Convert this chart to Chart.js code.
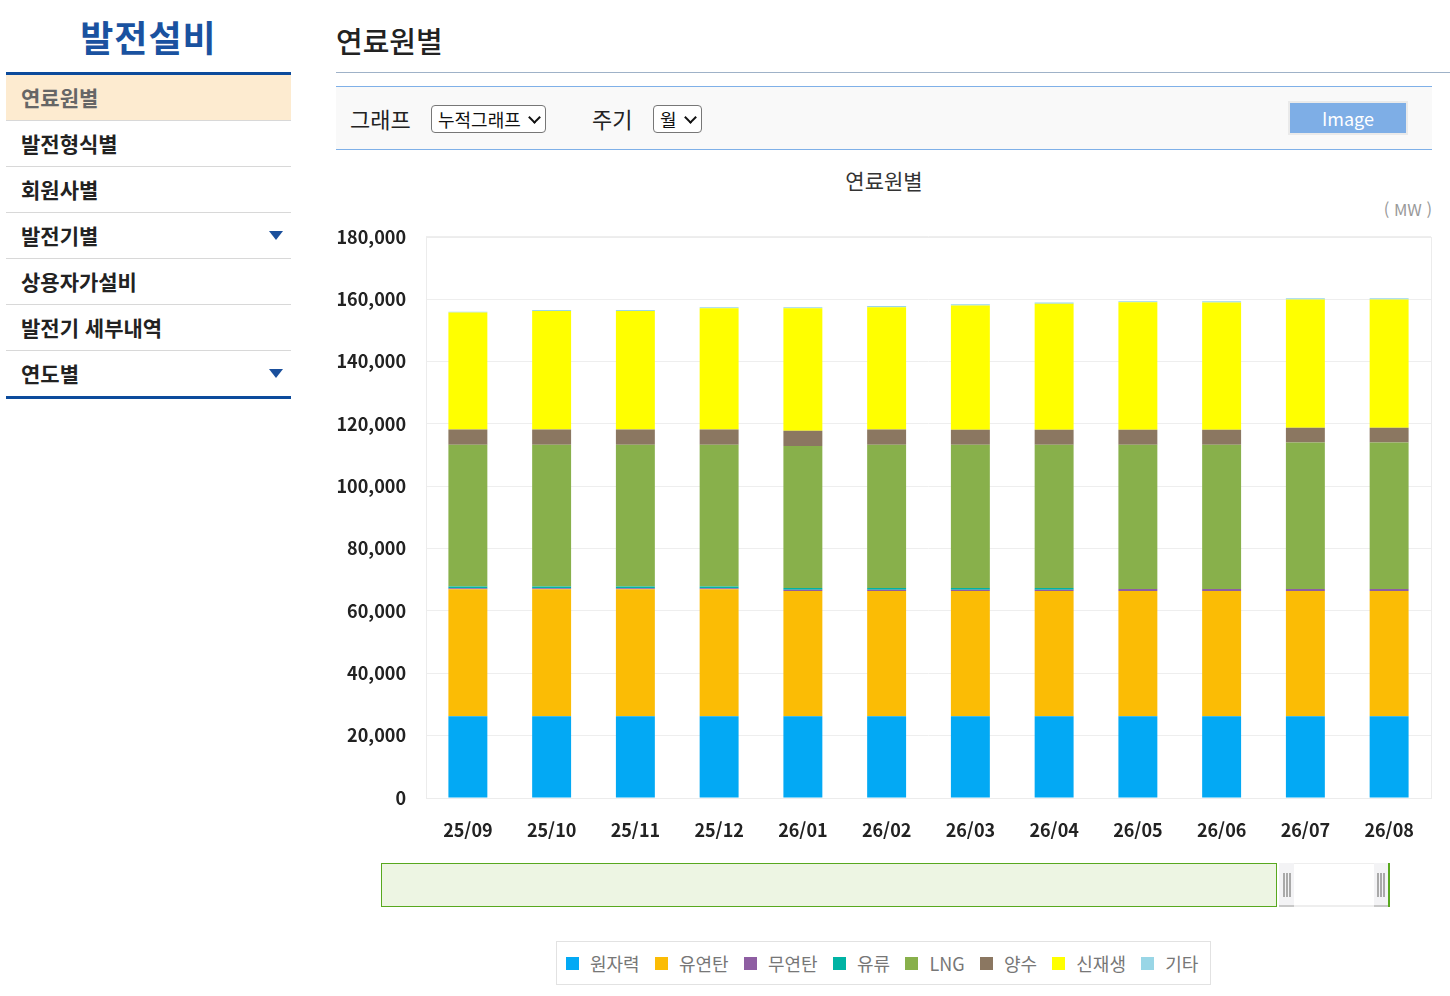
<!DOCTYPE html>
<html lang="ko">
<head>
<meta charset="utf-8">
<script src="https://cdn.jsdelivr.net/npm/chart.js@4.4.1/dist/chart.umd.min.js"></script>
<style>
  html,body{margin:0;padding:0;background:#fff;}
  body{width:1450px;height:996px;position:relative;overflow:hidden;font-family:"Noto Sans CJK KR","Noto Sans",sans-serif;}
  .abs{position:absolute;}
  #sideTitle{left:6px;width:285px;top:10px;text-align:center;font-size:36px;font-weight:700;color:#1a52a0;line-height:52px;letter-spacing:1px;}
  .rule{left:6px;width:285px;height:3px;background:#0c4b9c;}
  .menu{left:6px;width:285px;height:45px;border-bottom:1px solid #d8d8d8;font-size:21px;font-weight:700;color:#222;line-height:45px;box-sizing:border-box;padding-left:15px;}
  .menu.on{background:#fdebd0;color:#666;}
  .tri{position:absolute;right:8px;top:18px;width:0;height:0;border-left:7.5px solid transparent;border-right:7.5px solid transparent;border-top:9px solid #1a4f9c;}
  #mainTitle{left:336px;top:18px;font-size:29px;color:#222;line-height:44px;font-weight:500;}
  #mainRule{left:336px;top:72px;width:1114px;height:1px;background:#9fb2c8;}
  #ctrl{left:336px;top:86px;width:1096px;height:64px;background:#f9f9f9;border-top:1px solid #7fb0e8;border-bottom:1px solid #7fb0e8;box-sizing:border-box;}
  .lbl{font-size:22px;color:#222;top:14px;line-height:34px;}
  .sel{top:18px;height:28px;border:1px solid #777;border-radius:4px;background:#fff;box-sizing:border-box;font-size:18px;line-height:26px;color:#111;padding-left:6px;}
  .chev{position:absolute;right:6px;top:7px;width:7px;height:7px;border-right:2.5px solid #111;border-bottom:2.5px solid #111;transform:rotate(45deg);}
  #imgBtn{left:952px;top:14px;width:120px;height:34px;background:#eaeaea;box-sizing:border-box;padding:2px;}
  #imgBtn div{width:100%;height:100%;background:#7eaee6;color:#fff;font-size:18px;text-align:center;line-height:30px;}
  #chartTitle{left:336px;width:1096px;top:166px;text-align:center;font-size:21px;color:#333;line-height:28px;}
  #unit{right:18px;top:197px;font-size:16.5px;color:#999;line-height:24px;}
  #chartBox{left:336px;top:206px;width:1098px;height:640px;}
  #slider{left:381px;top:863px;width:1009px;height:44px;}
  #selPart{left:0;top:0;width:896px;height:44px;background:#edf5e3;border:1.5px solid #58a81e;box-sizing:border-box;}
  .grip{top:0;width:15px;height:44px;background:#f3f3f5;border-bottom:2px solid #c8c8c8;box-sizing:border-box;}
  .grip i{position:absolute;top:10px;width:2px;height:24px;background:#a9a9a9;}
  #restPart{left:913px;top:0;width:80px;height:44px;background:#fff;border-top:1px solid #eee;border-bottom:2px solid #eee;box-sizing:border-box;}
  #rightEdge{left:1007px;top:0;width:2px;height:44px;background:#58a81e;}
  #legend{left:556px;top:941px;width:655px;height:44px;border:1px solid #e2e2e2;box-sizing:border-box;}
  #legendRow{position:absolute;left:9px;top:0;height:42px;display:flex;align-items:center;white-space:nowrap;}
  .li{display:flex;align-items:center;flex-shrink:0;margin-right:15.3px;white-space:nowrap;}
  .li span.sq{width:13px;height:13px;display:inline-block;margin-right:11px;flex-shrink:0;}
  .li span.tx{font-size:18px;color:#777;line-height:22px;white-space:nowrap;}
</style>
</head>
<body>
<div id="sideTitle" class="abs">발전설비</div>
<div class="abs rule" style="top:72px"></div>
<div id="menuList"></div>
<div class="abs rule" style="top:396px"></div>

<div id="mainTitle" class="abs">연료원별</div>
<div id="mainRule" class="abs"></div>
<div id="ctrl" class="abs">
  <div class="abs lbl" style="left:14px">그래프</div>
  <div class="abs sel" style="left:95px;width:115px">누적그래프<span class="chev"></span></div>
  <div class="abs lbl" style="left:256px">주기</div>
  <div class="abs sel" style="left:317px;width:49px">월<span class="chev"></span></div>
  <div id="imgBtn" class="abs"><div>Image</div></div>
</div>
<div id="chartTitle" class="abs">연료원별</div>
<div id="unit" class="abs">( MW )</div>
<div id="chartBox" class="abs"><canvas id="c" width="1098" height="640" style="width:1098px;height:640px"></canvas></div>

<div id="slider" class="abs">
  <div id="selPart" class="abs"></div>
  <div class="abs grip" style="left:898px"><i style="left:4px"></i><i style="left:7px"></i><i style="left:10px"></i></div>
  <div id="restPart" class="abs"></div>
  <div class="abs grip" style="left:993px"><i style="left:3px"></i><i style="left:6px"></i><i style="left:9px"></i></div>
  <div id="rightEdge" class="abs"></div>
</div>
<div id="legend" class="abs"><div id="legendRow"></div></div>

<script>
// ---- data ----
const menuItems = ["연료원별","발전형식별","회원사별","발전기별","상용자가설비","발전기 세부내역","연도별"];
const menuArrow = [false,false,false,true,false,false,true];

const categories = ["25/09","25/10","25/11","25/12","26/01","26/02","26/03","26/04","26/05","26/06","26/07","26/08"];
const seriesNames = ["원자력","유연탄","무연탄","유류","LNG","양수","신재생","기타"];
const seriesColors = ["#03a9f4","#fbbc05","#8e5ea2","#00b3a4","#88b04b","#8b7761","#ffff00","#99d6e6"];

const nuclear    = [26200,26200,26200,26200,26200,26200,26200,26200,26200,26200,26200,26200];
const coal       = [40750,40750,40750,40750,40200,40200,40200,40200,40200,40200,40200,40200];
const anthracite = [300,300,300,300,400,400,400,400,600,600,600,600];
const oil        = [550,550,550,550,550,550,550,550,0,0,0,0];
const lng        = [45500,45500,45500,45500,45550,45950,45950,45950,46300,46300,47000,47000];
const pumped     = [4900,4900,4900,4900,4900,4900,4800,4800,4800,4800,4750,4750];
const renewable  = [37500,38000,38000,38900,39300,39200,39900,40400,40900,40800,41150,41150];
const other      = [300,300,300,300,300,400,400,400,350,450,400,400];

const yMax = 180000, yStep = 20000;

// ---- sidebar ----
const ml = document.getElementById('menuList');
menuItems.forEach((t,i)=>{
  const d = document.createElement('div');
  d.className = 'abs menu' + (i===0?' on':'');
  d.style.top = (75 + i*46) + 'px';
  d.style.height = (i===menuItems.length-1 ? 45 : 46) + 'px';
  if (i===menuItems.length-1) d.style.borderBottom = 'none';
  d.textContent = t;
  if (menuArrow[i]) { const a=document.createElement('span'); a.className='tri'; d.appendChild(a); }
  ml.appendChild(d);
});

// ---- legend ----
const lg = document.getElementById('legendRow');
seriesNames.forEach((n,i)=>{
  const it = document.createElement('div'); it.className='li';
  it.innerHTML = '<span class="sq" style="background:'+seriesColors[i]+'"></span><span class="tx">'+n+'</span>';
  lg.appendChild(it);
});

// ---- chart ----
const values = [nuclear,coal,anthracite,oil,lng,pumped,renewable,other];
const FONT = '"Noto Sans CJK KR","Noto Sans",sans-serif';
const borderPlugin = {
  id:'plotBorder',
  beforeDatasetsDraw(chart){
    const a = chart.chartArea, ctx = chart.ctx;
    ctx.save(); ctx.strokeStyle='#ececec'; ctx.lineWidth=1;
    ctx.strokeRect(Math.round(a.left)+0.5, Math.round(a.top)+0.5, Math.round(a.right-a.left), Math.round(a.bottom-a.top));
    ctx.restore();
  }
};
new Chart(document.getElementById('c'), {
  type:'bar',
  data:{
    labels: categories,
    datasets: seriesNames.map((n,i)=>({
      label:n, data:values[i], backgroundColor:seriesColors[i],
      borderWidth:0, categoryPercentage:1.0, barPercentage:0.465
    }))
  },
  options:{
    responsive:false, animation:false, devicePixelRatio:1,
    layout:{padding:{top:10,right:3,left:0,bottom:0}},
    plugins:{legend:{display:false}, tooltip:{enabled:false}, title:{display:false}},
    scales:{
      x:{
        stacked:true,
        grid:{display:false}, border:{display:false},
        ticks:{padding:13, color:'#222', font:{family:FONT, size:18, weight:'bold'}},
        afterFit(s){ s.height = 48; }
      },
      y:{
        stacked:true, min:0, max:yMax,
        grid:{color:'#eeeeee', drawTicks:false}, border:{display:false},
        ticks:{stepSize:yStep, padding:20, color:'#222', font:{family:FONT, size:18, weight:'bold'},
               callback:v=>Number(v).toLocaleString('en-US')},
        afterFit(s){ s.width = 90; }
      }
    }
  },
  plugins:[borderPlugin]
});
</script>
</body>
</html>
